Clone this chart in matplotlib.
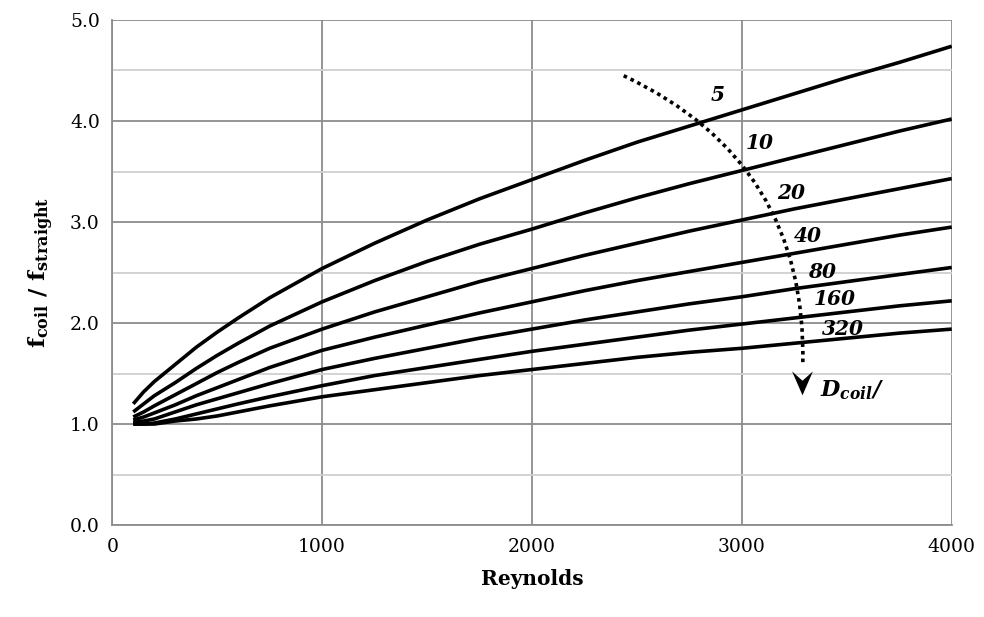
import matplotlib
matplotlib.use("Agg")
import matplotlib.pyplot as plt
from matplotlib.patches import FancyArrowPatch
from matplotlib.path import Path

plt.rcParams['font.family'] = ['DejaVu Serif']
plt.rcParams['mathtext.fontset'] = 'custom'
plt.rcParams['mathtext.rm'] = 'DejaVu Serif'
plt.rcParams['mathtext.it'] = 'DejaVu Serif:italic:bold'
plt.rcParams['mathtext.bf'] = 'DejaVu Serif:bold'

# Reynolds numbers where the curves were read
reynolds = [100, 150, 200, 300, 400, 500, 600, 750, 1000, 1250, 1500, 1750,
            2000, 2250, 2500, 2750, 3000, 3250, 3500, 3750, 4000]

# f_coil / f_straight for each D_coil/d ratio
ratio_5 = [1.20, 1.32, 1.42, 1.59, 1.76, 1.91, 2.05, 2.25, 2.54, 2.79, 3.02, 3.23,
           3.42, 3.61, 3.79, 3.95, 4.11, 4.27, 4.43, 4.58, 4.74]
ratio_10 = [1.12, 1.20, 1.28, 1.41, 1.55, 1.68, 1.80, 1.97, 2.21, 2.42, 2.61, 2.78,
            2.93, 3.09, 3.24, 3.38, 3.51, 3.64, 3.77, 3.90, 4.02]
ratio_20 = [1.07, 1.12, 1.18, 1.29, 1.40, 1.51, 1.61, 1.75, 1.94, 2.11, 2.26, 2.41,
            2.54, 2.67, 2.79, 2.91, 3.02, 3.13, 3.23, 3.33, 3.43]
ratio_40 = [1.04, 1.07, 1.11, 1.19, 1.28, 1.36, 1.44, 1.56, 1.73, 1.86, 1.98, 2.10,
            2.21, 2.32, 2.42, 2.51, 2.60, 2.69, 2.78, 2.87, 2.95]
ratio_80 = [1.02, 1.03, 1.05, 1.12, 1.19, 1.25, 1.31, 1.40, 1.54, 1.65, 1.75, 1.85,
            1.94, 2.03, 2.11, 2.19, 2.26, 2.34, 2.41, 2.48, 2.55]
ratio_160 = [1.00, 1.00, 1.01, 1.05, 1.10, 1.15, 1.20, 1.27, 1.38, 1.48, 1.56, 1.64,
             1.72, 1.79, 1.86, 1.93, 1.99, 2.05, 2.11, 2.17, 2.22]
ratio_320 = [1.00, 1.00, 1.00, 1.03, 1.05, 1.08, 1.12, 1.18, 1.27, 1.34, 1.41, 1.48,
             1.54, 1.60, 1.66, 1.71, 1.75, 1.80, 1.85, 1.90, 1.94]

curves = [ratio_5, ratio_10, ratio_20, ratio_40, ratio_80, ratio_160, ratio_320]
labels = ["5", "10", "20", "40", "80", "160", "320"]
# where each label sits (Re of left edge, y centre)
label_pos = [(2850, 4.26), (3020, 3.78), (3170, 3.29), (3250, 2.86), (3315, 2.51), (3340, 2.24), (3380, 1.94)]

fig = plt.figure(figsize=(9.84, 6.17), dpi=100)
ax = fig.add_axes([0.1141, 0.149, 0.8531, 0.8186])

for ys in curves:
    ax.plot(reynolds, ys, color='black', lw=2.6, solid_capstyle='butt',
            solid_joinstyle='round', zorder=3)

for lab, (lx, ly) in zip(labels, label_pos):
    ax.text(lx, ly, lab, fontsize=14.5, fontweight='bold', style='italic',
            ha='left', va='center', zorder=4)

# dotted arrow showing increasing D_coil/d
arc = FancyArrowPatch((2425, 4.46), (3290, 1.56), arrowstyle='-',
                      connectionstyle='arc3,rad=-0.33', linestyle=(0, (1, 1.1)),
                      lw=2.6, color='black', zorder=4)
arc.set_capstyle('butt')
ax.add_patch(arc)
head = Path([(0, -1), (-0.5, 0.15), (0, -0.3), (0.5, 0.15), (0, -1)],
            [Path.MOVETO, Path.LINETO, Path.LINETO, Path.LINETO, Path.CLOSEPOLY])
ax.plot([3287], [1.50], marker=head, ms=30, color='black', mew=0, zorder=5)
ax.text(3370, 1.34, r'$D_{coil}$/', fontsize=16, fontweight='bold', style='italic',
        ha='left', va='center', zorder=4)

ax.set_xlim(0, 4000)
ax.set_ylim(0, 5)
ax.set_xticks([0, 1000, 2000, 3000, 4000])
ax.set_yticks([0, 1, 2, 3, 4, 5])
ax.set_yticks([0.5, 1.5, 2.5, 3.5, 4.5], minor=True)
ax.set_yticklabels(['0.0', '1.0', '2.0', '3.0', '4.0', '5.0'])
ax.grid(which='major', color='#8c8c8c', lw=1.3)
ax.grid(which='minor', axis='y', color='#cfcfcf', lw=1.3)
ax.set_axisbelow(True)
ax.tick_params(which='both', length=0, labelsize=13.5)
ax.tick_params(axis='x', pad=9)
ax.tick_params(axis='y', pad=9)
for side in ['left', 'bottom']:
    ax.spines[side].set_color('#8c8c8c')
    ax.spines[side].set_linewidth(1.3)
for side in ['top', 'right']:
    ax.spines[side].set_visible(False)

ax.set_xlabel('Reynolds', fontsize=14.5, fontweight='bold', labelpad=10)
ax.set_ylabel(r'$\mathbf{f_{coil}\ /\ f_{straight}}$', fontsize=16.5, labelpad=10)

fig.savefig('out.png', dpi=100)
